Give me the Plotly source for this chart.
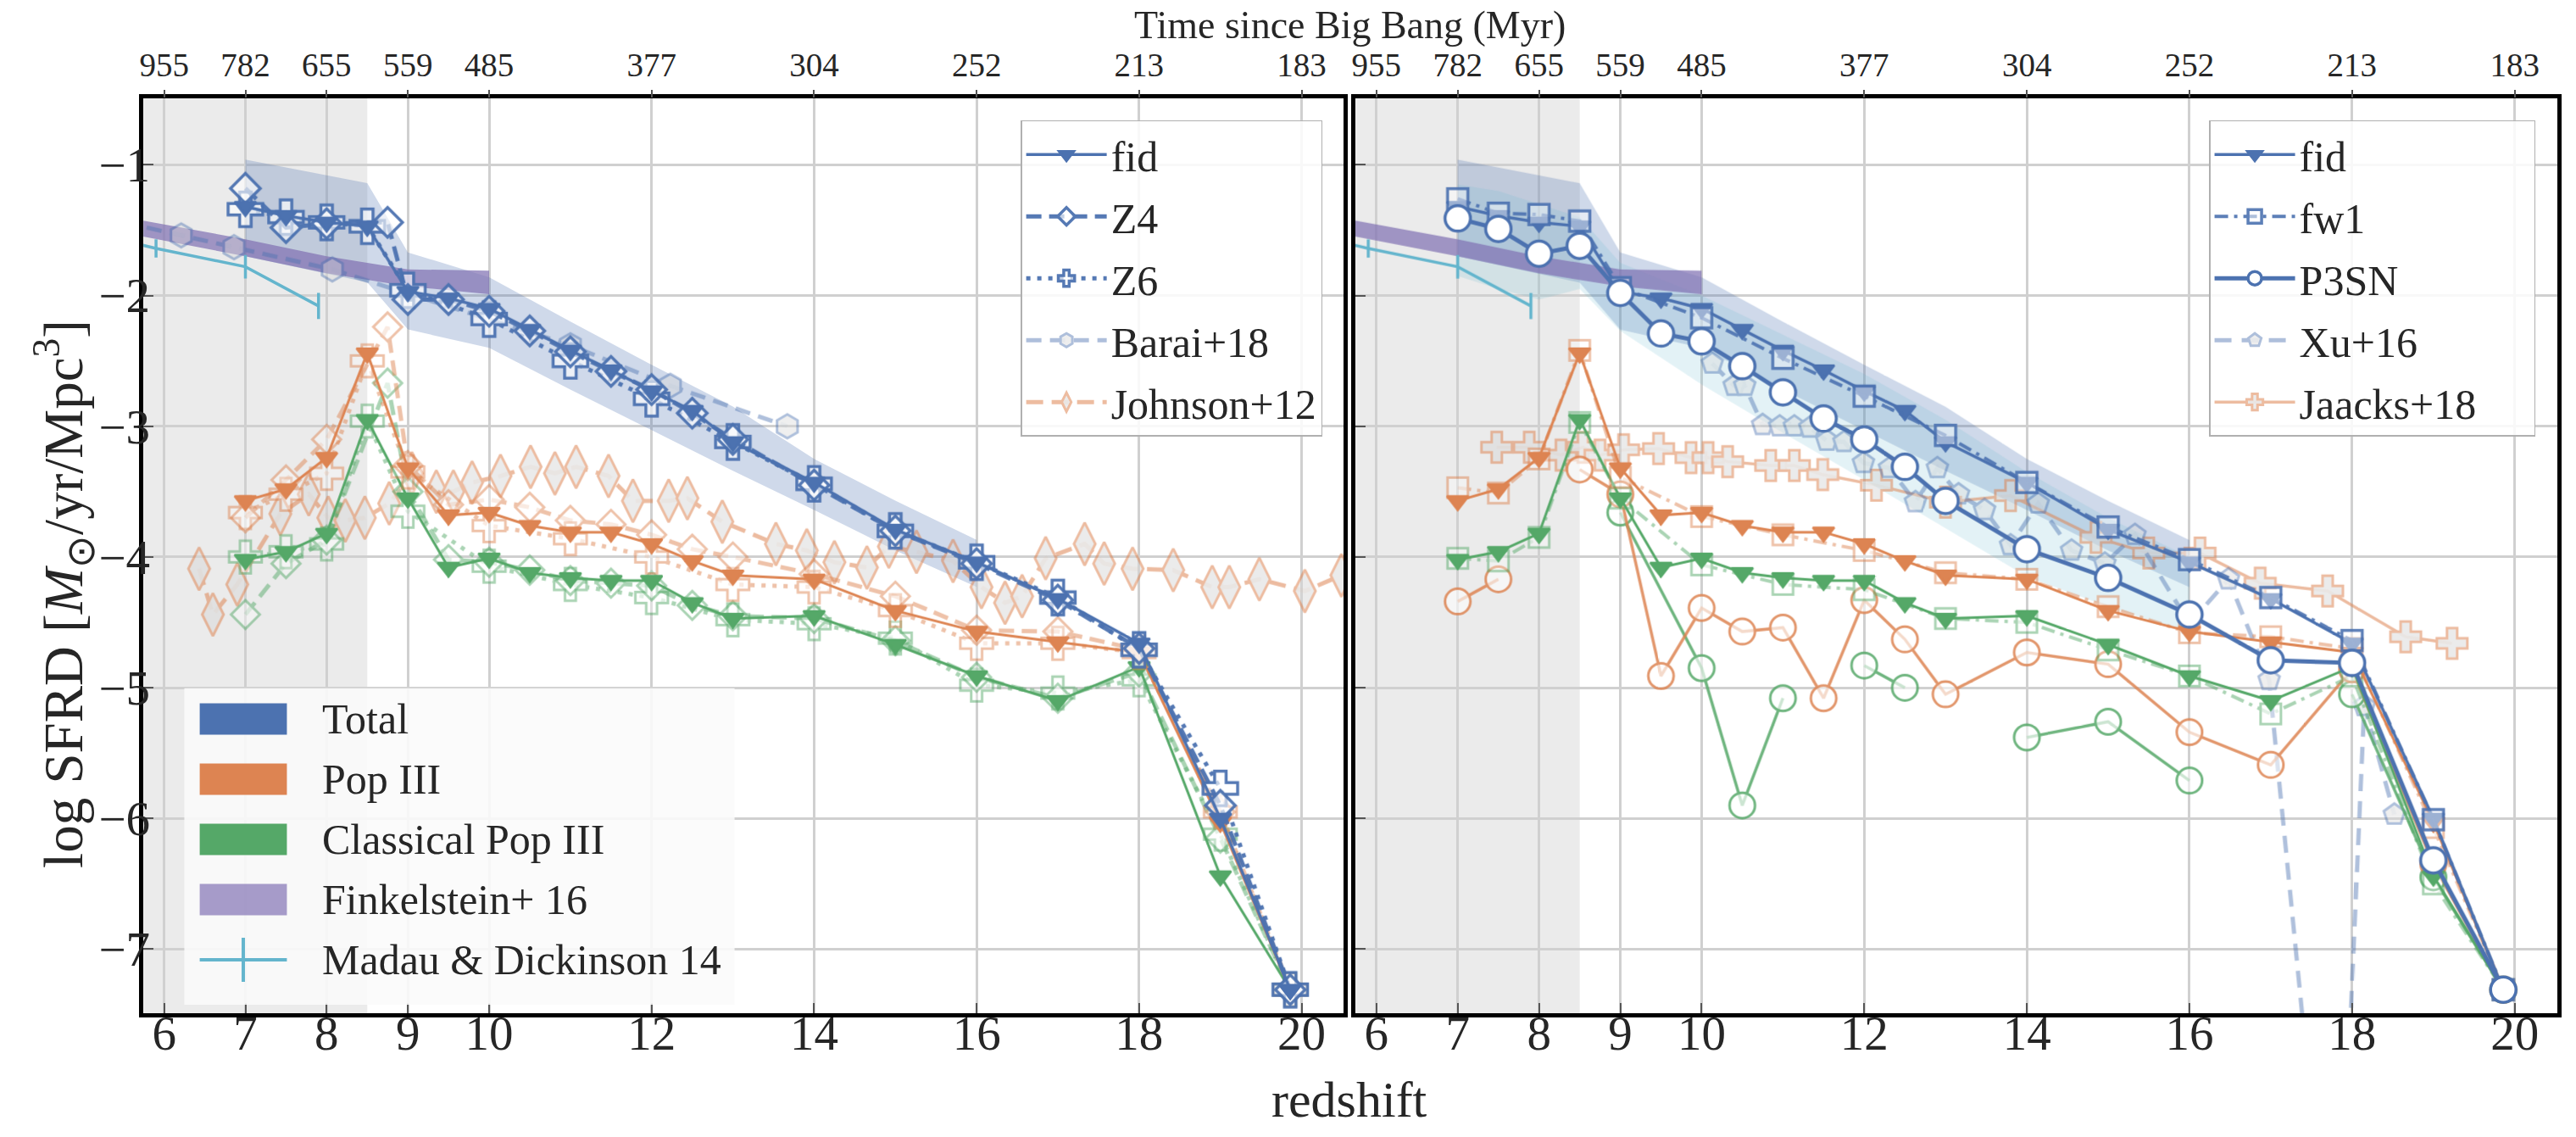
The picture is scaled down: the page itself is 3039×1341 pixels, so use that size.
import plotly.graph_objects as go

BLUE = '#4C72B0'; ORANGE = '#DD8452'; GREEN = '#55A868'; PURPLE = '#8172B3'; CYAN = '#64B5CD'
FONT = 'Liberation Serif'

# ---------------- axes / ticks ----------------
z_ticks = [6, 7, 8, 9, 10, 12, 14, 16, 18, 20]
time_labels = ['955', '782', '655', '559', '485', '377', '304', '252', '213', '183']
y_ticks = [-7, -6, -5, -4, -3, -2, -1]
z_range = [5.745, 20.52]
y_range = [-7.49, -0.49]
shade_z = [5.0, 8.5]

# ---------------- fiducial run (both panels) ----------------
fid_z = [7, 7.5, 8, 8.5, 9, 9.5, 10, 10.5, 11, 11.5, 12, 12.5, 13, 14, 15, 16, 17, 18, 19, 19.86]
fid_total = [-1.32, -1.39, -1.44, -1.47, -1.97, -2.02, -2.10, -2.26, -2.42, -2.57, -2.73, -2.88, -3.12, -3.43, -3.79, -4.04, -4.32, -4.66, -6.00, -7.31]
fid_pop3 = [-3.57, -3.48, -3.24, -2.44, -3.32, -3.68, -3.66, -3.76, -3.81, -3.81, -3.90, -4.03, -4.14, -4.17, -4.41, -4.57, -4.65, -4.73, -6.03, -7.31]
fid_cpop3 = [-4.02, -3.96, -3.82, -2.95, -3.55, -4.08, -4.01, -4.12, -4.16, -4.18, -4.18, -4.35, -4.47, -4.45, -4.67, -4.91, -5.10, -4.84, -6.44, -7.31]

fid_band_z = [7, 8.5, 9, 10, 11, 12, 13, 14, 15, 16]
fid_band_hi = [-0.96, -1.14, -1.67, -1.86, -2.20, -2.53, -2.85, -3.25, -3.57, -3.87]
fid_band_lo = [-1.70, -1.90, -2.26, -2.40, -2.72, -3.03, -3.34, -3.64, -3.95, -4.23]

# ---------------- left panel runs ----------------
z4_z = [7, 7.5, 8, 8.75, 9, 9.5, 10, 10.5, 11, 11.5, 12, 12.5, 13, 14, 15, 16, 17, 18, 19, 19.86]
z4_total = [-1.18, -1.48, -1.45, -1.44, -2.03, -2.03, -2.12, -2.27, -2.43, -2.58, -2.72, -2.90, -3.10, -3.45, -3.80, -4.05, -4.33, -4.70, -5.90, -7.31]
z4_pop3 = [-3.70, -3.41, -3.10, -2.24, -3.30, -3.60, -3.56, -3.62, -3.72, -3.75, -3.83, -3.94, -4.00, -4.13, -4.30, -4.56, -4.57, -4.71, -5.95, -7.31]
z4_cpop3 = [-4.44, -4.05, -3.87, -2.67, -3.50, -4.02, -4.04, -4.10, -4.18, -4.20, -4.22, -4.37, -4.45, -4.47, -4.64, -4.92, -5.08, -4.88, -6.15, -7.31]

z6_z = [7, 7.5, 8, 8.5, 9, 10, 11, 12, 13, 14, 15, 16, 17, 18, 19, 19.86]
z6_total = [-1.34, -1.40, -1.44, -1.47, -1.96, -2.18, -2.50, -2.79, -3.12, -3.44, -3.80, -4.04, -4.31, -4.71, -5.77, -7.31]
z6_pop3 = [-3.66, -3.52, -3.36, -2.50, -3.35, -3.76, -3.86, -4.00, -4.21, -4.23, -4.41, -4.66, -4.66, -4.73, -5.95, -7.31]
z6_cpop3 = [-4.00, -3.96, -3.90, -2.96, -3.65, -4.07, -4.21, -4.31, -4.48, -4.51, -4.62, -4.98, -5.04, -4.94, -6.12, -7.31]

barai_z = [5.5, 6.21, 6.86, 8.07, 11.0, 12.23, 13.67]
barai_total = [-1.44, -1.54, -1.63, -1.80, -2.38, -2.69, -3.00]

johnson_z = [6.43, 6.6, 6.9, 7.43, 7.78, 8.02, 8.23, 8.47, 8.77, 9.05, 9.35, 9.56, 9.79, 10.14,
             10.51, 10.81, 11.07, 11.47, 11.77, 12.21, 12.44, 12.87, 13.53, 13.91, 14.25, 14.65,
             14.92, 15.26, 15.71, 16.06, 16.35, 16.56, 16.85, 17.33, 17.57, 17.92, 18.42, 18.90,
             19.11, 19.48, 20.04, 20.49]
johnson_pop3 = [-4.09, -4.44, -4.21, -3.67, -3.52, -3.70, -3.72, -3.70, -3.59, -3.36, -3.50, -3.50,
                -3.43, -3.38, -3.31, -3.36, -3.31, -3.38, -3.57, -3.57, -3.55, -3.73, -3.90, -3.95,
                -4.04, -4.08, -3.92, -3.96, -4.03, -4.23, -4.35, -4.30, -4.01, -3.90, -4.05, -4.09,
                -4.10, -4.23, -4.23, -4.17, -4.26, -4.14]

# ---------------- observations ----------------
fink_z = [5.5, 7, 8, 9, 10]
fink_hi = [-1.40, -1.57, -1.70, -1.80, -1.81]
fink_lo = [-1.52, -1.70, -1.83, -1.93, -1.99]

madau_z = [5.5, 5.9, 7.0, 7.9]
madau_sfrd = [-1.58, -1.64, -1.78, -2.08]
madau_err = [0.07, 0.07, 0.09, 0.10]

# ---------------- right panel runs ----------------
fw1_z = [7, 7.5, 8, 8.5, 9, 10, 11, 12, 13, 14, 15, 16, 17, 18, 19, 19.86]
fw1_total = [-1.26, -1.37, -1.38, -1.43, -1.94, -2.17, -2.48, -2.77, -3.07, -3.43, -3.77, -4.02, -4.31, -4.64, -6.01, -7.31]
fw1_pop3 = [-3.47, -3.51, -3.25, -2.42, -3.39, -3.69, -3.83, -3.95, -4.12, -4.17, -4.38, -4.58, -4.61, -4.70, -6.07, -7.31]
fw1_cpop3 = [-4.01, -4.03, -3.85, -2.97, -3.55, -4.06, -4.21, -4.25, -4.47, -4.50, -4.71, -4.91, -5.20, -4.91, -6.50, -7.31]

p3sn_z = [7, 7.5, 8, 8.5, 9, 9.5, 10, 10.5, 11, 11.5, 12, 12.5, 13, 14, 15, 16, 17, 18, 19, 19.86]
p3sn_total = [-1.41, -1.49, -1.68, -1.62, -1.98, -2.29, -2.35, -2.54, -2.74, -2.94, -3.10, -3.31, -3.57, -3.94, -4.16, -4.44, -4.79, -4.81, -6.32, -7.31]
p3sn_pop3 = [-4.34, -4.17, None, -3.33, -3.52, -4.91, -4.39, -4.57, -4.54, -5.08, -4.33, -4.63, -5.05, -4.73, -4.82, -5.34, -5.59, -4.86, -6.35, -7.31]
p3sn_cpop3_z = [9, 10, 10.5, 11, 11.5, 12, 12.5, 13, 14, 15, 16, 17, 18, 19, 19.86]
p3sn_cpop3 = [-3.66, -4.85, -5.90, -5.08, None, -4.83, -5.00, None, -5.38, -5.26, -5.71, None, -5.05, -6.45, -7.31]

p3sn_band_z = [7, 7.5, 8, 8.5, 9, 10, 11, 12, 13, 14, 15, 16]
p3sn_band_hi = [-1.15, -1.20, -1.30, -1.40, -1.75, -2.00, -2.30, -2.60, -2.95, -3.35, -3.70, -4.00]
p3sn_band_lo = [-1.85, -1.95, -2.03, -1.95, -2.27, -2.68, -3.05, -3.41, -3.78, -4.15, -4.38, -4.58]

xu_z = [10.13, 10.4, 10.53, 10.75, 10.96, 11.14, 11.33, 11.54, 11.75, 11.99, 12.31, 12.63, 12.9,
        13.16, 13.48, 13.8, 14.14, 14.55, 14.96, 15.33, 16.0, 16.48, 16.98, 17.8, 18.15, 18.52]
xu_total = [-2.52, -2.69, -2.69, -2.99, -3.00, -3.00, -3.01, -3.11, -3.12, -3.28, -3.32, -3.58, -3.32,
            -3.52, -3.64, -3.91, -3.59, -3.95, -4.05, -3.83, -4.51, -4.17, -4.94, -10.1, -5.14, -5.97]

jaacks_z = [7.48, 7.88, 8.27, 8.54, 8.75, 9.04, 9.47, 9.87, 10.08, 10.32, 10.85, 11.14, 11.49, 12.15,
            13.0, 13.8, 14.85, 15.5, 16.13, 16.87, 17.7, 18.66, 19.23]
jaacks_pop3 = [-3.16, -3.16, -3.22, -3.16, -3.22, -3.18, -3.17, -3.24, -3.24, -3.27, -3.30, -3.30,
               -3.37, -3.45, -3.58, -3.53, -3.85, -3.97, -3.97, -4.20, -4.26, -4.61, -4.66]

patch_labels = ['Total', 'Pop III', 'Classical Pop III', 'Finkelstein+ 16', 'Madau & Dickinson 14']
patch_colors = [BLUE, ORANGE, GREEN, 'rgba(129,114,179,0.7)', CYAN]

fig = go.Figure()


def band(z, hi, lo, color, xa, ya):
    fig.add_trace(go.Scatter(x=list(z) + list(z)[::-1], y=list(hi) + list(lo)[::-1],
                             fill='toself', fillcolor=color, line=dict(width=0), mode='lines',
                             xaxis=xa, yaxis=ya, showlegend=False, hoverinfo='skip'))


def series(z, v, color, xa, ya, dash='solid', lw=3, symbol='circle', ms=20, mfill=None, mlw=2.5,
           opacity=1.0, name=None, legend='legend', showlegend=False, rank=None):
    fig.add_trace(go.Scatter(
        x=z, y=v, mode='lines+markers', name=name,
        line=dict(color=color, width=lw, dash=dash),
        marker=dict(symbol=symbol, size=ms, color=mfill if mfill else color,
                    line=dict(color=color, width=mlw)),
        opacity=opacity, xaxis=xa, yaxis=ya, showlegend=showlegend,
        legendgroup=(legend + (name or '')) if showlegend else None,
        legend=legend, legendrank=rank, connectgaps=False, hoverinfo='x+y'))


WFILL = 'rgba(255,255,255,0.65)'
GFILL = 'rgba(215,215,215,0.9)'

for xa, ya in [('x', 'y'), ('x2', 'y2')]:
    band(fid_band_z, fid_band_hi, fid_band_lo, 'rgba(76,114,176,0.27)', xa, ya)
    if xa == 'x2':
        band(p3sn_band_z, p3sn_band_hi, p3sn_band_lo, 'rgba(100,181,205,0.18)', xa, ya)
    band(fink_z, fink_hi, fink_lo, 'rgba(129,114,179,0.72)', xa, ya)
    fig.add_trace(go.Scatter(x=madau_z, y=madau_sfrd, mode='lines', line=dict(color=CYAN, width=3.5),
                             error_y=dict(type='data', array=madau_err, color=CYAN, thickness=3.5, width=0),
                             xaxis=xa, yaxis=ya, showlegend=False, hoverinfo='x+y'))

# ---- left panel ----
series(johnson_z, johnson_pop3, ORANGE, 'x', 'y', dash='20px,10px', lw=5, symbol='diamond-tall', ms=36,
       mfill=GFILL, mlw=3, opacity=0.55, name='Johnson+12', showlegend=True, rank=5)
series(barai_z, barai_total, BLUE, 'x', 'y', dash='18px,10px', lw=5, symbol='hexagon', ms=28,
       mfill=GFILL, mlw=3, opacity=0.45, name='Barai+18', showlegend=True, rank=4)

for col, z6v, z4v, fv in [(GREEN, z6_cpop3, z4_cpop3, fid_cpop3), (ORANGE, z6_pop3, z4_pop3, fid_pop3)]:
    series(z6_z, z6v, col, 'x', 'y', dash='5px,8px', lw=5, symbol='cross', ms=32, mfill=WFILL, mlw=3, opacity=0.5)
    series(z4_z, z4v, col, 'x', 'y', dash='18px,9px', lw=5, symbol='diamond', ms=26, mfill=WFILL, mlw=3, opacity=0.5)
    series(fid_z, fv, col, 'x', 'y', lw=3, symbol='triangle-down', ms=22)

series(z6_z, z6_total, BLUE, 'x', 'y', dash='5px,8px', lw=5, symbol='cross', ms=34, mfill=WFILL, mlw=3.5,
       opacity=0.95, name='Z6', showlegend=True, rank=3)
series(z4_z, z4_total, BLUE, 'x', 'y', dash='18px,9px', lw=5, symbol='diamond', ms=27, mfill=WFILL, mlw=3.5,
       opacity=0.95, name='Z4', showlegend=True, rank=2)
series(fid_z, fid_total, BLUE, 'x', 'y', lw=3.5, symbol='triangle-down', ms=22, name='fid',
       showlegend=True, rank=1)

# ---- right panel ----
series(jaacks_z, jaacks_pop3, ORANGE, 'x2', 'y2', lw=3.5, symbol='cross', ms=30, mfill=GFILL, mlw=3,
       opacity=0.55, name='Jaacks+18\u00a0\u00a0\u00a0\u00a0\u00a0', legend='legend2', showlegend=True, rank=5)
series(xu_z, xu_total, BLUE, 'x2', 'y2', dash='20px,12px', lw=5, symbol='pentagon', ms=26, mfill=GFILL,
       mlw=3, opacity=0.45, name='Xu+16', legend='legend2', showlegend=True, rank=4)

series(p3sn_cpop3_z, p3sn_cpop3, GREEN, 'x2', 'y2', lw=3.5, symbol='circle', ms=30, mfill=WFILL, mlw=3, opacity=0.85)
series(p3sn_z, p3sn_pop3, ORANGE, 'x2', 'y2', lw=3.5, symbol='circle', ms=30, mfill=WFILL, mlw=3, opacity=0.85)
for col, fw, fv in [(GREEN, fw1_cpop3, fid_cpop3), (ORANGE, fw1_pop3, fid_pop3)]:
    series(fw1_z, fw, col, 'x2', 'y2', dash='16px,7px,4px,7px', lw=4, symbol='square', ms=24, mfill=WFILL,
           mlw=3, opacity=0.5)
    series(fid_z, fv, col, 'x2', 'y2', lw=3, symbol='triangle-down', ms=22)

series(fid_z, fid_total, BLUE, 'x2', 'y2', lw=3.5, symbol='triangle-down', ms=22, name='fid',
       legend='legend2', showlegend=True, rank=1)
series(fw1_z, fw1_total, BLUE, 'x2', 'y2', dash='16px,7px,4px,7px', lw=4, symbol='square', ms=24,
       mfill='rgba(255,255,255,0.5)', mlw=3.5, opacity=0.9, name='fw1', legend='legend2', showlegend=True, rank=2)
series(p3sn_z, p3sn_total, BLUE, 'x2', 'y2', lw=5, symbol='circle', ms=30, mfill='white', mlw=3.5,
       opacity=1.0, name='P3SN', legend='legend2', showlegend=True, rank=3)

# invisible anchors so the top (time) axes are drawn
for xa, ya in [('x3', 'y'), ('x4', 'y2')]:
    fig.add_trace(go.Scatter(x=[z_ticks[0]], y=[y_range[0] - 5], mode='markers', marker=dict(opacity=0),
                             xaxis=xa, yaxis=ya, showlegend=False, hoverinfo='skip'))

# ---------------- layout ----------------
W, H = 3039, 1341
dom_x1 = [164.5 / W, 1583 / W]
dom_x2 = [1597 / W, 3016.5 / W]
dom_y = [1 - 1195 / H, 1 - 115.7 / H]

tickfont = dict(family=FONT, size=57, color='#262626')


def xaxis(domain, anchor):
    return dict(domain=domain, anchor=anchor, range=z_range, tickmode='array', tickvals=z_ticks,
                ticktext=[str(t) for t in z_ticks], ticks='inside', ticklen=12, tickwidth=2,
                tickcolor='#555', showgrid=True, gridcolor='#d0d0d0', gridwidth=2.5, zeroline=False,
                showline=True, linecolor='black', linewidth=4.5, mirror=True, tickfont=tickfont,
                ticklabelstandoff=-30)


def yaxis(anchor, labels):
    return dict(domain=dom_y, anchor=anchor, range=y_range, tickmode='array', tickvals=y_ticks,
                ticks='inside', ticklen=12, tickwidth=2, tickcolor='#555', showgrid=True,
                gridcolor='#d0d0d0', gridwidth=2.5, zeroline=False, showline=True, linecolor='black',
                linewidth=4.5, mirror=True, showticklabels=labels, tickfont=tickfont,
                ticklabelstandoff=-24)


def topaxis(over, anchor):
    return dict(overlaying=over, anchor=anchor, side='top', range=z_range, tickmode='array',
                tickvals=z_ticks, ticktext=time_labels, ticks='outside', ticklen=9, tickwidth=2,
                tickcolor='#555', showgrid=False, zeroline=False, showline=False,
                tickfont=dict(family=FONT, size=39, color='#262626'))


legend_common = dict(font=dict(family=FONT, size=50, color='#262626'), bgcolor='rgba(255,255,255,0.85)',
                     bordercolor='#b0b0b0', borderwidth=1.5, itemwidth=95, yanchor='top', xanchor='right',
                     tracegroupgap=5, traceorder='grouped')

shapes = []
for xr, yr in [('x', 'y domain'), ('x2', 'y2 domain')]:
    shapes.append(dict(type='rect', xref=xr, yref=yr, x0=shade_z[0], x1=shade_z[1], y0=0, y1=1,
                       fillcolor='#ebebeb', line=dict(width=0), layer='below'))

# patch legend (bottom-left of left panel)
leg_top, leg_step = 848, 71
shapes.append(dict(type='rect', xref='paper', yref='paper', x0=212.8 / W, x1=863 / W,
                   y0=1 - 1185 / H, y1=1 - 811.7 / H, fillcolor='rgba(250,250,250,0.88)',
                   line=dict(width=0), layer='above'))
annotations = []
for i, (lab, col) in enumerate(zip(patch_labels, patch_colors)):
    yc = leg_top + i * leg_step
    if i < 4:
        shapes.append(dict(type='rect', xref='paper', yref='paper', x0=231 / W, x1=334 / W,
                           y0=1 - (yc + 18.5) / H, y1=1 - (yc - 18.5) / H, fillcolor=col,
                           line=dict(width=0), layer='above'))
    else:
        shapes.append(dict(type='line', xref='paper', yref='paper', x0=231 / W, x1=334 / W,
                           y0=1 - yc / H, y1=1 - yc / H, line=dict(color=col, width=4), layer='above'))
        shapes.append(dict(type='line', xref='paper', yref='paper', x0=282.5 / W, x1=282.5 / W,
                           y0=1 - (yc + 26) / H, y1=1 - (yc - 26) / H, line=dict(color=col, width=4),
                           layer='above'))
    annotations.append(dict(text=lab, xref='paper', yref='paper', x=373.5 / W, y=1 - yc / H,
                            xanchor='left', yanchor='middle', showarrow=False,
                            font=dict(family=FONT, size=50, color='#262626')))

annotations += [
    dict(text='redshift', xref='paper', yref='paper', x=1590 / W, y=1 - 1297 / H, showarrow=False,
         xanchor='center', yanchor='middle', font=dict(family=FONT, size=60, color='#262626')),
    dict(text='Time since Big Bang (Myr)', xref='paper', yref='paper', x=1590 / W, y=1 - 29 / H,
         showarrow=False, xanchor='center', yanchor='middle', font=dict(family=FONT, size=46, color='#262626')),
    dict(text='log SFRD [<i>M</i><sub>⊙</sub>/yr/Mpc<sup>3</sup>]', xref='paper', yref='paper',
         x=70 / W, y=1 - 700 / H, textangle=-90, showarrow=False, xanchor='center',
         yanchor='middle', font=dict(family=FONT, size=65, color='#262626')),
]

fig.update_layout(
    width=W, height=H, margin=dict(l=0, r=0, t=0, b=0),
    paper_bgcolor='white', plot_bgcolor='white',
    font=dict(family=FONT, color='#262626'),
    xaxis=xaxis(dom_x1, 'y'), yaxis=yaxis('x', True),
    xaxis2=xaxis(dom_x2, 'y2'), yaxis2=yaxis('x2', False),
    xaxis3=topaxis('x', 'y'), xaxis4=topaxis('x2', 'y2'),
    legend=dict(x=1557.7 / W, y=1 - 141.7 / H, **legend_common),
    legend2=dict(x=2991 / W, y=1 - 141.7 / H, **legend_common),
    shapes=shapes, annotations=annotations, hovermode='closest',
)

fig.write_html('out.html')
